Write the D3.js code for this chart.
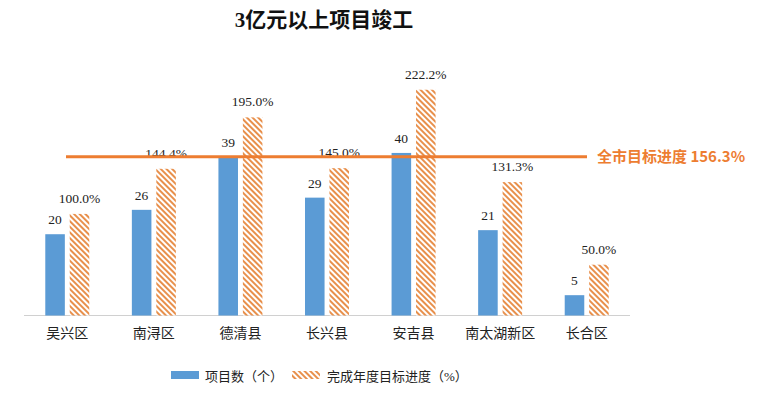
<!DOCTYPE html>
<html>
<head>
<meta charset="utf-8">
<script src="https://cdn.jsdelivr.net/npm/d3@7"></script>
<style>
  body { margin: 0; background: #fff; }
  svg { display: block; }
</style>
</head>
<body>
<script>
const width = 768
const height = 399

// data
const districts = ['吴兴区', '南浔区', '德清县', '长兴县', '安吉县', '南太湖新区', '长合区']
const projectCounts = [20, 26, 39, 29, 40, 21, 5]
const progressPct = [100.0, 144.4, 195.0, 145.0, 222.2, 131.3, 50.0]
const cityTarget = 156.3
const seriesNames = ['项目数（个）', '完成年度目标进度（%）']

const serif = '"Liberation Serif", "Times New Roman", "Noto Sans CJK SC", serif'
const cjk = '"Liberation Serif", "Noto Sans CJK SC", sans-serif'
const blue = '#5B9BD5'
const orange = '#ED7D31'

const baseY = 315.5

const x0 = d3.scaleBand()
  .domain(districts)
  .range([24, 630])

const x1 = d3.scaleBand()
  .domain(['cnt', 'pct'])
  .range([0, 44])
  .paddingInner(0.2)

const yPct = d3.scaleLinear()
  .domain([0, 250])
  .range([baseY, baseY - 254])

const yCnt = d3.scaleLinear()
  .domain([0, 62.5])
  .range([baseY, baseY - 254])

const svg = d3.select('body').append('svg')
  .attr('width', width)
  .attr('height', height)

const defs = svg.append('defs')
const pat = defs.append('pattern')
  .attr('id', 'hatch')
  .attr('patternUnits', 'userSpaceOnUse')
  .attr('width', 4)
  .attr('height', 4)
  .attr('patternTransform', 'rotate(-45)')
pat.append('rect').attr('width', 4).attr('height', 4).attr('fill', '#fff')
pat.append('rect').attr('width', 2).attr('height', 4).attr('fill', '#E8904C')

// title
svg.append('text')
  .attr('x', 324)
  .attr('y', 27)
  .attr('text-anchor', 'middle')
  .style('font-family', cjk)
  .style('font-size', '21px')
  .style('font-weight', 'bold')
  .style('fill', '#111')
  .text('3亿元以上项目竣工')

// axis line
svg.append('line')
  .attr('x1', x0.range()[0])
  .attr('x2', x0.range()[1])
  .attr('y1', baseY)
  .attr('y2', baseY)
  .attr('stroke', '#d0d0d0')
  .attr('stroke-width', 1)

const groups = svg.selectAll('g.grp')
  .data(districts)
  .enter().append('g')
  .attr('class', 'grp')
  .attr('transform', function (d) {
    return 'translate(' + (x0(d) + x0.bandwidth() / 2 - 22) + ',0)'
  })

groups.append('rect')
  .attr('x', x1('cnt'))
  .attr('width', x1.bandwidth())
  .attr('y', function (d, i) { return yCnt(projectCounts[i]) })
  .attr('height', function (d, i) { return baseY - yCnt(projectCounts[i]) })
  .attr('fill', blue)

groups.append('rect')
  .attr('x', x1('pct'))
  .attr('width', x1.bandwidth())
  .attr('y', function (d, i) { return yPct(progressPct[i]) })
  .attr('height', function (d, i) { return baseY - yPct(progressPct[i]) })
  .attr('fill', 'url(#hatch)')

groups.append('text')
  .attr('x', x1('cnt') + x1.bandwidth() / 2)
  .attr('y', function (d, i) { return yCnt(projectCounts[i]) - 10 })
  .attr('text-anchor', 'middle')
  .style('font-family', serif)
  .style('font-size', '13.5px')
  .style('fill', '#222')
  .text(function (d, i) { return projectCounts[i] })

groups.append('text')
  .attr('x', x1('pct') + x1.bandwidth() / 2)
  .attr('y', function (d, i) { return yPct(progressPct[i]) - 11 })
  .attr('text-anchor', 'middle')
  .style('font-family', serif)
  .style('font-size', '13.5px')
  .style('fill', '#222')
  .text(function (d, i) { return progressPct[i].toFixed(1) + '%' })

// category labels
svg.selectAll('text.cat')
  .data(districts)
  .enter().append('text')
  .attr('class', 'cat')
  .attr('x', function (d) { return x0(d) + x0.bandwidth() / 2 })
  .attr('y', 338)
  .attr('text-anchor', 'middle')
  .style('font-family', cjk)
  .style('font-size', '14px')
  .style('fill', '#222')
  .text(function (d) { return d })

// city target line
svg.append('line')
  .attr('x1', 66)
  .attr('x2', 587)
  .attr('y1', yPct(cityTarget))
  .attr('y2', yPct(cityTarget))
  .attr('stroke', orange)
  .attr('stroke-width', 3)

svg.append('text')
  .attr('x', 597)
  .attr('y', yPct(cityTarget) + 5.5)
  .style('font-family', '"Noto Sans CJK SC", sans-serif')
  .style('font-size', '15px')
  .style('font-weight', 'bold')
  .style('fill', orange)
  .text('全市目标进度 ' + cityTarget + '%')

// legend
const legend = svg.append('g')
legend.append('rect')
  .attr('x', 171).attr('y', 371)
  .attr('width', 28).attr('height', 8)
  .attr('fill', blue)
legend.append('text')
  .attr('x', 205).attr('y', 381)
  .style('font-family', cjk)
  .style('font-size', '13px')
  .style('fill', '#222')
  .text(seriesNames[0])
legend.append('rect')
  .attr('x', 292).attr('y', 371)
  .attr('width', 28).attr('height', 8)
  .attr('fill', 'url(#hatch)')
legend.append('text')
  .attr('x', 327).attr('y', 381)
  .style('font-family', cjk)
  .style('font-size', '13px')
  .style('fill', '#222')
  .text(seriesNames[1])
</script>
</body>
</html>
